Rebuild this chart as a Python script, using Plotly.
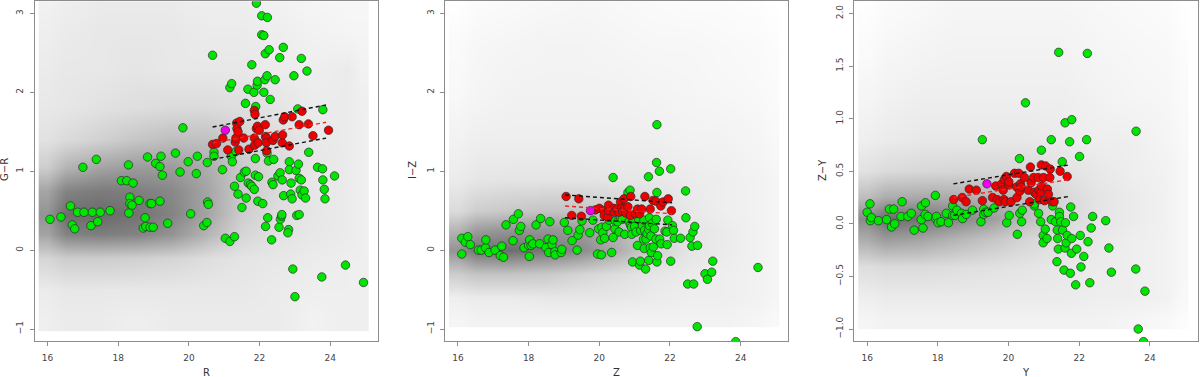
import plotly.graph_objects as go

# ---- panel 1: R vs G-R ----
p1_green_x = [16.07, 16.38, 16.65, 16.70, 16.77, 16.85, 17.0, 17.03, 17.23, 17.27, 17.38, 17.42, 17.49, 17.77,
              18.09, 18.24, 18.29, 18.30, 18.33, 18.33, 18.39, 18.42, 18.59, 18.71, 18.76, 18.78, 18.83, 18.90,
              18.94, 18.90, 18.99, 19.06, 19.18, 19.18, 19.21, 19.25, 19.40, 19.62, 19.75, 19.83, 19.98, 20.05,
              20.21, 20.24, 20.42, 20.51, 20.52, 20.53, 20.55, 20.67, 20.71, 20.71, 20.95, 21.03, 21.16, 21.16,
              21.21, 21.20, 21.23, 21.29, 21.29, 21.33, 21.39, 21.46, 21.50, 21.57, 21.60, 21.62, 21.62, 21.67,
              21.68, 21.74, 21.78, 21.78, 21.84, 21.85, 21.88, 21.88, 21.89, 21.91, 21.93, 21.94, 21.95, 21.97,
              22.06, 22.06, 22.09, 22.12, 22.12, 22.15, 22.16, 22.17, 22.21, 22.21, 22.22, 22.23, 22.25, 22.27,
              22.30, 22.34, 22.35, 22.38, 22.40, 22.44, 22.52, 22.55, 22.57, 22.58, 22.59, 22.62, 22.63, 22.64,
              22.67, 22.68, 22.82, 22.80, 22.84, 22.84, 22.88, 22.89, 22.92, 22.94, 22.97, 23.00, 23.03, 23.05,
              23.08, 23.10, 23.12, 23.12, 23.15, 23.18, 23.18, 23.20, 23.26, 23.30, 23.34, 23.39, 23.64, 23.76,
              23.78, 23.79, 23.79, 23.83, 23.85, 24.12, 24.43, 24.94]
p1_green_y = [0.39, 0.42, 0.56, 0.32, 0.27, 0.48, 1.05, 0.48, 0.31, 0.48, 1.15, 0.36, 0.48, 0.50,
              0.88, 0.88, 1.08, 0.47, 0.67, 0.59, 0.57, 0.85, 0.63, 0.28, 0.41, 0.30, 1.18, 0.59,
              0.59, 0.29, 0.29, 1.10, 1.06, 0.62, 1.19, 0.95, 0.34, 1.23, 0.99, 1.55, 1.12, 0.46,
              0.97, 1.19, 0.31, 0.35, 1.11, 0.61, 0.58, 2.47, 1.24, 1.19, 1.02, 0.15, 0.11, 2.06,
              2.11, 1.19, 1.12, 0.81, 0.17, 1.25, 0.71, 0.92, 0.54, 0.99, 1.86, 1.00, 0.66, 2.04,
              0.85, 0.83, 2.35, 0.81, 2.00, 0.77, 1.16, 0.95, 1.82, 3.13, 2.09, 2.14, 0.62, 0.93,
              2.97, 2.73, 0.59, 2.72, 2.00, 2.16, 2.49, 0.30, 1.23, 2.21, 2.95, 0.41, 1.13, 2.54,
              1.91, 0.13, 0.86, 0.83, 1.15, 2.16, 0.94, 0.29, 2.44, 0.98, 0.39, 0.43, 0.45, 0.89,
              2.57, 0.69, 0.26, 0.22, 1.12, 1.02, 0.71, 0.85, 0.65, -0.24, 2.21, -0.59, 1.01, 0.44,
              1.79, 1.09, 0.45, 0.91, 0.76, 0.89, 2.43, 0.70, 0.75, 0.66, 2.27, 1.24, 1.05, -0.34,
              1.03, 1.78, 0.89, 0.77, 0.65, 0.94, -0.19, -0.41]
p1_red_x = [20.67, 20.78, 20.96, 21.10, 21.31, 21.33, 21.35, 21.36, 21.39, 21.41, 21.44, 21.55, 21.70,
            21.85, 21.87, 21.85, 21.86, 21.91, 21.94, 21.96, 21.99, 22.16, 22.17, 22.19, 22.19, 22.20,
            22.38, 22.44, 22.64, 22.65, 22.67, 22.71, 22.84, 22.92, 23.12, 23.20, 23.38, 23.51, 23.95]
p1_red_y = [1.34, 1.35, 1.42, 1.27, 1.37, 1.42, 1.61, 1.54, 1.50, 1.27, 1.63, 1.42, 1.28,
            1.77, 1.72, 1.42, 1.33, 1.54, 1.57, 1.36, 1.52, 1.59, 1.44, 1.42, 1.36, 1.26,
            1.39, 1.44, 1.36, 1.46, 1.65, 1.69, 1.32, 1.69, 1.59, 1.76, 1.60, 1.45, 1.52]
p1_target = ([21.03], [1.52])
p1_line_x = [20.67, 23.88]
p1_upper_y = [1.56, 1.84]
p1_mid_y = [1.36, 1.62]
p1_lower_y = [1.15, 1.42]

# ---- panel 2: Z vs I-Z ----
p2_green_x = [16.11, 16.11, 16.21, 16.28, 16.35, 16.58, 16.66, 16.78, 16.79, 16.88, 17.05, 17.20, 17.24,
              17.29, 17.36, 17.56, 17.57, 17.71, 17.74, 17.78, 17.87, 18.00, 18.02, 18.03, 18.07, 18.12,
              18.21, 18.31, 18.34, 18.49, 18.55, 18.57, 18.60, 18.66, 18.69, 18.74, 18.75, 18.92, 18.94,
              19.01, 19.11, 19.23, 19.37, 19.40, 19.45, 19.51, 19.73, 19.82, 19.95, 19.98, 20.06, 20.04,
              20.07, 20.10, 20.15, 20.20, 20.28, 20.35, 20.39, 20.39, 20.44, 20.45, 20.52, 20.56, 20.60,
              20.65, 20.72, 20.81, 20.87, 20.84, 20.88, 20.91, 20.92, 20.94, 20.96, 21.00, 21.04, 21.08,
              21.11, 21.14, 21.16, 21.17, 21.22, 21.25, 21.26, 21.27, 21.28, 21.31, 21.32, 21.35, 21.39,
              21.40, 21.40, 21.42, 21.42, 21.44, 21.46, 21.47, 21.50, 21.53, 21.56, 21.60, 21.61, 21.62,
              21.63, 21.63, 21.63, 21.65, 21.70, 21.71, 21.75, 21.86, 21.91, 21.92, 21.94, 22.02, 22.02,
              22.07, 22.10, 22.12, 22.30, 22.44, 22.45, 22.50, 22.57, 22.62, 22.65, 22.67, 22.70, 22.78,
              22.77, 22.99, 23.06, 23.18, 23.21, 23.86, 24.49]
p2_green_y = [-0.05, 0.15, 0.10, 0.17, 0.07, 0.00, 0.00, 0.03, 0.13, -0.03, 0.00, -0.07, 0.05,
              -0.09, 0.32, 0.12, 0.39, 0.46, 0.25, 0.30, 0.03, 0.06, -0.08, 0.13, 0.06, 0.08,
              0.32, 0.08, 0.40, 0.03, 0.14, -0.03, 0.36, 0.07, 0.13, -0.02, -0.06, -0.03, 0.01,
              0.35, 0.25, 0.12, 0.00, 0.19, 0.26, 0.37, 0.22, 0.38, -0.05, 0.27, -0.06, 0.13,
              0.29, 0.22, 0.15, 0.30, 0.38, -0.03, 0.92, 0.16, 0.27, 0.37, 0.36, 0.23, 0.41,
              0.39, 0.20, 0.73, 0.76, 0.36, 0.32, 0.29, 0.20, -0.15, 0.38, 0.30, 0.23, 0.06,
              0.39, -0.19, -0.14, 0.25, 0.31, 0.14, 0.38, 0.02, 0.25, -0.24, 0.14, 0.21, 0.93,
              0.26, -0.13, 0.41, 0.31, 0.03, 0.18, -0.03, 0.34, 0.04, 0.27, 0.14, 0.39, 1.11,
              1.59, 0.73, -0.15, -0.07, 1.00, 0.14, 0.08, 0.24, 0.23, 0.07, 0.38, 1.03, -0.14,
              0.31, 0.25, 0.15, 0.15, 0.75, 0.41, -0.43, 0.16, 0.05, 0.23, -0.43, 0.30, 0.06,
              -0.97, -0.30, -0.37, -0.28, -0.14, -1.16, -0.22]
p2_red_x = [19.06, 19.22, 19.42, 19.49, 19.89, 20.0, 20.12, 20.14, 20.24, 20.26, 20.26, 20.41, 20.42,
            20.50, 20.56, 20.60, 20.63, 20.66, 20.70, 20.72, 20.75, 20.81, 20.88, 20.89, 21.02, 21.08,
            21.14, 21.20, 21.29, 21.44, 21.52, 21.60, 21.74, 21.80, 21.95, 22.04]
p2_red_y = [0.68, 0.44, 0.65, 0.43, 0.51, 0.53, 0.50, 0.44, 0.42, 0.50, 0.57, 0.53, 0.48,
            0.52, 0.48, 0.61, 0.53, 0.49, 0.65, 0.53, 0.47, 0.55, 0.44, 0.68, 0.46, 0.52,
            0.46, 0.52, 0.68, 0.52, 0.63, 0.62, 0.56, 0.61, 0.65, 0.50]
p2_target = ([19.75], [0.50])
p2_line_x = [19.03, 22.06]
p2_upper_y = [0.70, 0.60]
p2_mid_y = [0.56, 0.46]
p2_lower_y = [0.41, 0.32]

# ---- panel 3: Y vs Z-Y ----
p3_green_x = [16.0, 16.08, 16.09, 16.12, 16.32, 16.55, 16.63, 16.69, 16.75, 16.78, 16.96, 16.99, 17.15,
              17.25, 17.33, 17.54, 17.53, 17.58, 17.64, 17.65, 17.72, 17.93, 17.94, 17.96, 18.01, 18.09,
              18.24, 18.30, 18.42, 18.42, 18.48, 18.54, 18.67, 18.70, 18.80, 18.98, 19.22, 19.26, 19.30,
              19.30, 19.35, 19.42, 19.59, 19.95, 20.02, 20.25, 20.31, 20.32, 20.37, 20.39, 20.48, 20.73,
              20.73, 20.85, 20.91, 20.93, 20.98, 20.98, 21.04, 21.09, 21.21, 21.21, 21.25, 21.33, 21.37,
              21.38, 21.39, 21.41, 21.42, 21.44, 21.44, 21.48, 21.52, 21.53, 21.57, 21.60, 21.60, 21.61,
              21.63, 21.66, 21.73, 21.76, 21.75, 21.79, 21.79, 21.78, 21.84, 21.90, 21.93, 22.01, 22.03,
              22.05, 22.13, 22.21, 22.23, 22.25, 22.30, 22.34, 22.38, 22.75, 22.84, 22.91, 23.60, 23.61,
              23.67, 23.86, 23.82]
p3_green_y = [0.11, 0.19, 0.03, 0.06, 0.03, 0.04, 0.14, -0.03, 0.14, 0.0, 0.07, 0.21, 0.07,
              0.10, -0.06, 0.17, 0.04, -0.04, 0.09, 0.20, 0.07, 0.27, 0.05, 0.07, 0.01, 0.02,
              0.10, 0.01, 0.17, 0.08, 0.08, 0.13, 0.10, 0.05, 0.09, 0.13, 0.02, 0.80, 0.14,
              0.09, 0.11, 0.11, 0.15, 0.01, 0.08, -0.10, 0.62, 0.10, 0.02, 0.13, 1.15, 0.17,
              0.19, 0.10, 0.02, 0.70, -0.11, -0.18, -0.05, -0.14, 0.80, 0.04, 0.17, 0.02, -0.36,
              -0.06, -0.14, -0.24, 1.63, 0.11, 0.07, 0.02, 0.59, -0.06, -0.44, 0.96, -0.23, 0.01,
              -0.18, -0.11, 0.78, 0.16, -0.47, 0.99, -0.14, -0.28, 0.07, -0.58, -0.24, 0.64, -0.11,
              -0.41, -0.31, 0.80, 1.62, -0.17, -0.56, -0.04, 0.07, 0.03, -0.23, -0.46, -0.43, 0.88,
              -1.00, -0.64, -1.12]
p3_red_x = [18.45, 18.69, 18.80, 18.89, 19.09, 19.26, 19.55, 19.64, 19.68, 19.75, 19.81, 19.85, 19.88,
            19.87, 19.91, 19.94, 20.01, 20.01, 20.07, 20.17, 20.23, 20.24, 20.29, 20.32, 20.34, 20.36,
            20.45, 20.56, 20.60, 20.62, 20.64, 20.71, 20.73, 20.78, 20.84, 20.86, 20.88, 20.92, 20.93,
            20.94, 20.99, 21.02, 21.05, 21.10, 21.13, 21.18, 21.17, 21.23, 21.29, 21.46, 21.66]
p3_red_y = [0.23, 0.25, 0.21, 0.33, 0.32, 0.22, 0.25, 0.36, 0.23, 0.21, 0.38, 0.32, 0.42,
            0.23, 0.21, 0.45, 0.37, 0.40, 0.21, 0.48, 0.35, 0.25, 0.48, 0.31, 0.38, 0.35,
            0.44, 0.32, 0.21, 0.54, 0.39, 0.44, 0.30, 0.28, 0.44, 0.32, 0.23, 0.30, 0.56,
            0.36, 0.44, 0.22, 0.55, 0.33, 0.28, 0.52, 0.44, 0.21, 0.21, 0.50, 0.45]
p3_target = ([19.39], [0.38])
p3_line_x = [18.44, 21.71]
p3_upper_y = [0.38, 0.56]
p3_mid_y = [0.25, 0.42]
p3_lower_y = [0.08, 0.26]

dens_x = [16.0, 16.5, 17.5, 18.5, 19.5, 20.5, 21.5, 22.5, 23.5, 24.5, 24.9]

dens1_y = [-0.85, -0.5, -0.1, 0.2, 0.45, 0.75, 1.05, 1.4, 1.8, 2.3, 2.8, 3.2]
dens1_z = [
    [0.10, 0.12, 0.12, 0.10, 0.12, 0.12, 0.12, 0.12, 0.08, 0.10, 0.10],
    [0.12, 0.14, 0.14, 0.14, 0.14, 0.14, 0.14, 0.12, 0.10, 0.10, 0.10],
    [0.25, 0.30, 0.30, 0.28, 0.25, 0.20, 0.16, 0.14, 0.12, 0.10, 0.10],
    [0.55, 0.75, 0.78, 0.75, 0.65, 0.45, 0.25, 0.18, 0.14, 0.12, 0.10],
    [0.65, 0.88, 0.90, 0.85, 0.75, 0.55, 0.30, 0.20, 0.15, 0.12, 0.10],
    [0.55, 0.75, 0.80, 0.78, 0.72, 0.55, 0.32, 0.22, 0.15, 0.12, 0.10],
    [0.30, 0.45, 0.55, 0.60, 0.60, 0.50, 0.32, 0.22, 0.15, 0.12, 0.10],
    [0.18, 0.22, 0.28, 0.35, 0.40, 0.38, 0.28, 0.20, 0.14, 0.12, 0.10],
    [0.14, 0.15, 0.18, 0.20, 0.22, 0.22, 0.20, 0.16, 0.12, 0.12, 0.10],
    [0.12, 0.14, 0.14, 0.16, 0.14, 0.14, 0.14, 0.12, 0.10, 0.12, 0.08],
    [0.10, 0.12, 0.14, 0.14, 0.14, 0.12, 0.12, 0.10, 0.08, 0.06, 0.06],
    [0.08, 0.10, 0.12, 0.12, 0.12, 0.10, 0.10, 0.08, 0.06, 0.05, 0.05],
]

dens2_y = [-0.85, -0.6, -0.3, 0.0, 0.25, 0.5, 0.9, 1.4, 2.0, 2.6, 3.2]
dens2_z = [
    [0.06, 0.08, 0.08, 0.08, 0.08, 0.08, 0.08, 0.08, 0.08, 0.06, 0.04],
    [0.10, 0.12, 0.12, 0.14, 0.14, 0.14, 0.12, 0.10, 0.10, 0.08, 0.06],
    [0.30, 0.35, 0.35, 0.32, 0.25, 0.20, 0.15, 0.12, 0.10, 0.08, 0.06],
    [0.65, 0.85, 0.88, 0.82, 0.70, 0.50, 0.28, 0.16, 0.12, 0.08, 0.06],
    [0.45, 0.60, 0.65, 0.65, 0.60, 0.45, 0.28, 0.16, 0.12, 0.08, 0.06],
    [0.22, 0.30, 0.34, 0.36, 0.36, 0.30, 0.22, 0.14, 0.10, 0.08, 0.06],
    [0.12, 0.15, 0.16, 0.16, 0.16, 0.15, 0.14, 0.12, 0.10, 0.08, 0.06],
    [0.08, 0.10, 0.10, 0.10, 0.10, 0.10, 0.10, 0.08, 0.08, 0.06, 0.04],
    [0.04, 0.06, 0.08, 0.08, 0.08, 0.08, 0.07, 0.06, 0.05, 0.04, 0.03],
    [0.03, 0.05, 0.06, 0.07, 0.07, 0.06, 0.05, 0.05, 0.04, 0.03, 0.02],
    [0.00, 0.02, 0.03, 0.04, 0.05, 0.04, 0.03, 0.02, 0.02, 0.01, 0.00],
]

dens3_y = [-0.9, -0.7, -0.4, -0.15, 0.05, 0.25, 0.5, 0.8, 1.2, 1.6, 2.2]
dens3_z = [
    [0.06, 0.08, 0.08, 0.08, 0.08, 0.08, 0.08, 0.08, 0.06, 0.04, 0.02],
    [0.10, 0.12, 0.12, 0.12, 0.12, 0.12, 0.12, 0.10, 0.10, 0.08, 0.04],
    [0.20, 0.22, 0.22, 0.20, 0.18, 0.16, 0.14, 0.12, 0.10, 0.08, 0.05],
    [0.50, 0.60, 0.55, 0.45, 0.35, 0.25, 0.18, 0.14, 0.10, 0.08, 0.05],
    [0.70, 0.88, 0.85, 0.75, 0.60, 0.40, 0.25, 0.16, 0.12, 0.08, 0.05],
    [0.40, 0.50, 0.52, 0.50, 0.45, 0.38, 0.25, 0.16, 0.12, 0.08, 0.05],
    [0.18, 0.22, 0.24, 0.25, 0.25, 0.24, 0.18, 0.14, 0.10, 0.08, 0.05],
    [0.10, 0.12, 0.14, 0.14, 0.14, 0.14, 0.12, 0.10, 0.10, 0.06, 0.04],
    [0.06, 0.08, 0.10, 0.10, 0.10, 0.10, 0.10, 0.08, 0.06, 0.05, 0.03],
    [0.03, 0.05, 0.07, 0.08, 0.08, 0.08, 0.08, 0.06, 0.05, 0.04, 0.02],
    [0.00, 0.02, 0.03, 0.05, 0.05, 0.05, 0.05, 0.04, 0.03, 0.02, 0.00],
]

x_ticks = [16, 18, 20, 22, 24]

panels = [
    dict(green=(p1_green_x, p1_green_y), red=(p1_red_x, p1_red_y), target=p1_target,
         lx=p1_line_x, lines=(p1_upper_y, p1_mid_y, p1_lower_y),
         dens=(dens_x, dens1_y, dens1_z), yrange=[-1.152, 3.156], ytick=[-1, 0, 1, 2, 3],
         yfmt="d", dom=[0.029, 0.315], ylab="G\u2212R", xlab="R", ylab_x=5),
    dict(green=(p2_green_x, p2_green_y), red=(p2_red_x, p2_red_y), target=p2_target,
         lx=p2_line_x, lines=(p2_upper_y, p2_mid_y, p2_lower_y),
         dens=(dens_x, dens2_y, dens2_z), yrange=[-1.152, 3.156], ytick=[-1, 0, 1, 2, 3],
         yfmt="d", dom=[0.371, 0.657], ylab="I\u2212Z", xlab="Z", ylab_x=413),
    dict(green=(p3_green_x, p3_green_y), red=(p3_red_x, p3_red_y), target=p3_target,
         lx=p3_line_x, lines=(p3_upper_y, p3_mid_y, p3_lower_y),
         dens=(dens_x, dens3_y, dens3_z), yrange=[-1.114, 2.117],
         ytick=[-1.0, -0.5, 0.0, 0.5, 1.0, 1.5, 2.0],
         yfmt=".1f", dom=[0.712, 0.998], ylab="Z\u2212Y", xlab="Y", ylab_x=823),
]

fig = go.Figure()
frame = "#8c8c8c"
ydom = [0.0955, 0.997]

for i, p in enumerate(panels):
    n = "" if i == 0 else str(i + 1)
    xa, ya = "x" + n, "y" + n
    dx, dy, dz = p["dens"]
    fig.add_trace(go.Heatmap(x=dx, y=dy, z=dz, zmin=0, zmax=1, zsmooth="best",
                             colorscale=[[0, "#ffffff"], [1, "#5a5a5a"]],
                             showscale=False, hoverinfo="skip", xaxis=xa, yaxis=ya))
    fig.add_trace(go.Scatter(x=p["green"][0], y=p["green"][1], mode="markers",
                             marker=dict(size=8.5, color="#00e600", line=dict(width=0.7, color="#2a2a2a")),
                             showlegend=False, xaxis=xa, yaxis=ya))
    fig.add_trace(go.Scatter(x=p["red"][0], y=p["red"][1], mode="markers",
                             marker=dict(size=8.5, color="#ee0000", line=dict(width=0.7, color="#2a2a2a")),
                             showlegend=False, xaxis=xa, yaxis=ya))
    fig.add_trace(go.Scatter(x=p["target"][0], y=p["target"][1], mode="markers",
                             marker=dict(size=8.5, color="#ee00ee", line=dict(width=0.7, color="#2a2a2a")),
                             showlegend=False, xaxis=xa, yaxis=ya))
    for ly, col in zip(p["lines"], ["#111111", "#ee2222", "#111111"]):
        fig.add_trace(go.Scatter(x=p["lx"], y=ly, mode="lines",
                                 line=dict(color=col, width=1.4, dash="4px,3px"),
                                 showlegend=False, xaxis=xa, yaxis=ya))

    axis_common = dict(showline=True, linecolor=frame, linewidth=1, mirror=True,
                       showgrid=False, zeroline=False, ticks="outside", ticklen=4,
                       tickcolor=frame, automargin=False,
                       tickfont=dict(size=9, color="#444444", family="DejaVu Sans"))
    fig.update_layout(**{
        "xaxis" + n: dict(domain=p["dom"], range=[15.64, 25.35], tickvals=x_ticks,
                          anchor=ya, ticklabelstandoff=4, **axis_common),
        "yaxis" + n: dict(domain=ydom, range=p["yrange"], tickvals=p["ytick"],
                          tickformat=p["yfmt"], tickangle=-90, anchor=xa,
                          ticklabelstandoff=3, **axis_common),
    })
    x_mid = (p["dom"][0] + p["dom"][1]) / 2
    fig.add_annotation(text=p["xlab"], xref="paper", yref="paper", x=x_mid, y=1 - 372 / 377,
                       xanchor="center", yanchor="middle", showarrow=False,
                       font=dict(size=10, color="#333333", family="DejaVu Sans"))
    fig.add_annotation(text=p["ylab"], xref="paper", yref="paper", x=p["ylab_x"] / 1200,
                       y=1 - 170 / 377, xanchor="center", yanchor="middle",
                       textangle=-90, showarrow=False,
                       font=dict(size=10, color="#333333", family="DejaVu Sans"))

fig.update_layout(width=1200, height=377, margin=dict(l=0, r=0, t=0, b=0),
                  paper_bgcolor="white", plot_bgcolor="white", showlegend=False)

# the page body has a default 8px margin; remove it so the figure fills the window
fig.write_html("out.html", config={"displayModeBar": False},
               post_script="document.body.style.margin='0px';")
